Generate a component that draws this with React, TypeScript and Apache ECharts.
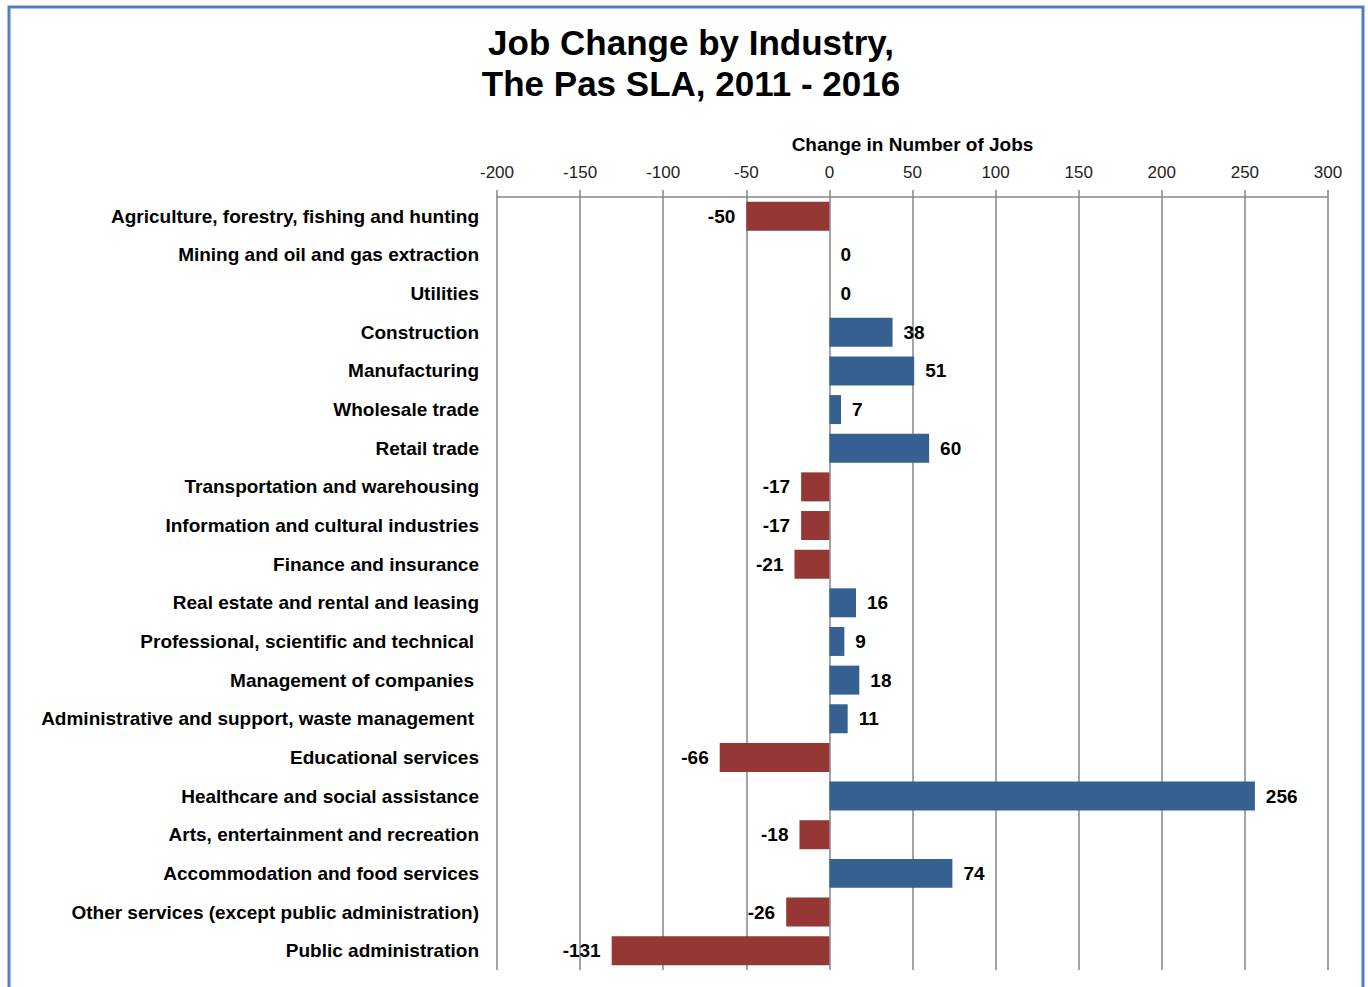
import React, { useEffect, useRef } from "react";
import * as echarts from "echarts";

const categories = [
  "Agriculture, forestry, fishing and hunting",
  "Mining and oil and gas extraction",
  "Utilities",
  "Construction",
  "Manufacturing",
  "Wholesale trade",
  "Retail trade",
  "Transportation and warehousing",
  "Information and cultural industries",
  "Finance and insurance",
  "Real estate and rental and leasing",
  "Professional, scientific and technical ",
  "Management of companies ",
  "Administrative and support, waste management ",
  "Educational services",
  "Healthcare and social assistance",
  "Arts, entertainment and recreation",
  "Accommodation and food services",
  "Other services (except public administration)",
  "Public administration",
];

const jobChange = [-50, 0, 0, 38, 51, 7, 60, -17, -17, -21, 16, 9, 18, 11, -66, 256, -18, 74, -26, -131];

const FONT = "'Liberation Sans', Arial, sans-serif";
const BLUE = "#376092";
const RED = "#953735";

export default function App() {
  const ref = useRef<HTMLDivElement>(null);
  useEffect(() => {
    if (!ref.current) return;
    const chart = echarts.init(ref.current, null, { renderer: "svg" });
    chart.setOption({
      animation: false,
      backgroundColor: "#ffffff",
      textStyle: { fontFamily: FONT },
      title: {
        text: "Job Change by Industry,\nThe Pas SLA, 2011 - 2016",
        left: 686,
        textAlign: "center",
        top: 17,
        textStyle: {
          fontFamily: FONT,
          fontSize: 35,
          fontWeight: "bold",
          color: "#000",
          lineHeight: 41,
        },
      },
      graphic: [
        {
          type: "rect",
          shape: { x: 9, y: 7, width: 1354, height: 1010 },
          style: { fill: "none", stroke: "#4F81BD", lineWidth: 3 },
          silent: true,
          z: 100,
        },
      ],
      grid: { left: 497, right: 40, top: 197, bottom: 17 },
      xAxis: {
        type: "value",
        position: "top",
        min: -200,
        max: 300,
        interval: 50,
        name: "Change in Number of Jobs",
        nameLocation: "middle",
        nameGap: 43,
        nameTextStyle: { fontFamily: FONT, fontSize: 19, fontWeight: "bold", color: "#000" },
        axisLine: { show: true, lineStyle: { color: "#868686", width: 1.5 } },
        axisTick: { show: true, length: 7, lineStyle: { color: "#868686", width: 1.5 } },
        axisLabel: { margin: 16, fontFamily: FONT, fontSize: 17, color: "#222" },
        splitLine: { show: true, lineStyle: { color: "#868686", width: 1.5 } },
      },
      yAxis: {
        type: "category",
        inverse: true,
        data: categories,
        axisLine: { show: false },
        axisTick: { show: false },
        axisLabel: {
          margin: 18,
          fontFamily: FONT,
          fontSize: 19,
          fontWeight: "bold",
          color: "#000",
          formatter: (v: string) => (v.endsWith(" ") ? `{p|${v.trim()}}` : v),
          rich: {
            p: { fontFamily: FONT, fontSize: 19, fontWeight: "bold", color: "#000", padding: [0, 5, 0, 0] },
          },
        },
      },
      series: [
        {
          type: "bar",
          barCategoryGap: "25%",
          data: jobChange.map((v) => ({
            value: v,
            itemStyle: { color: v < 0 ? RED : BLUE },
            label: { position: v < 0 ? "left" : "right" },
          })),
          label: {
            show: true,
            distance: 11,
            fontFamily: FONT,
            fontSize: 19,
            fontWeight: "bold",
            color: "#000",
          },
        },
      ],
    });
    return () => chart.dispose();
  }, []);
  return (
    <div
      ref={ref}
      style={{ position: "absolute", left: 0, top: 0, width: 1368, height: 987 }}
    />
  );
}
